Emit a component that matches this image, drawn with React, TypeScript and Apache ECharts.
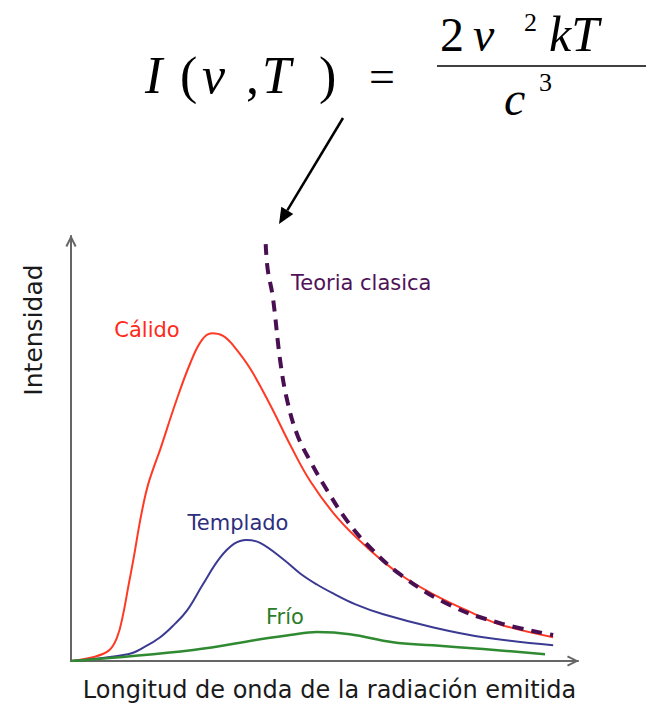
import React, { useEffect, useRef } from 'react';
import * as echarts from 'echarts';

// Curves: [wavelength (0-100), intensity (0-100)]
const calido: number[][] = [
  [0, 0], [4.3, 0.9], [7.5, 2.5], [9.1, 5.6], [10.2, 10.5], [11.3, 17.5], [12.4, 24.5],
  [13.4, 31.5], [14.4, 37.6], [15.2, 41.5], [16.3, 45.5], [17.6, 49.8], [20.7, 61.0], [23.5, 70.0],
  [25.8, 75.5], [27.8, 77.1], [30.0, 76.5], [32.1, 74.1], [35.4, 68.7], [39.4, 60.0],
  [43.3, 50.7], [47.2, 42.3], [52.6, 33.6], [58.5, 26.6], [65.0, 20.3], [71.5, 15.7],
  [78.1, 11.9], [84.6, 8.6], [95.1, 5.6],
];
const templado: number[][] = [
  [0, 0], [11.2, 1.6], [14.5, 3.3], [17.6, 5.6], [20.3, 8.5], [22.9, 11.9], [26.0, 18.0],
  [29.4, 24.3], [32.2, 27.6], [34.6, 28.5], [37.3, 27.8], [41.8, 24.0], [45.2, 20.6],
  [48.5, 18.0], [51.7, 15.9], [56.0, 13.4], [61.6, 11.0], [71.5, 7.9], [81.3, 5.6], [95.1, 3.7],
];
const frio: number[][] = [
  [0, 0], [24.1, 2.6], [37.3, 5.1], [43.2, 6.1], [48.5, 6.8], [55.0, 6.3],
  [63.5, 4.4], [71.4, 3.7], [81.3, 2.8], [93.5, 1.6],
];
const clasica: number[][] = [
  [38.4, 98.1], [38.8, 92.1], [39.8, 85.7], [41.3, 70.3], [42.7, 61.0], [44.7, 53.0],
  [47.2, 47.0], [50.6, 40.0], [54.5, 32.9], [58.5, 27.3], [65.0, 20.3], [74.8, 13.1],
  [84.6, 8.9], [95.1, 6.1],
];

const seriesNames = ['Cálido', 'Templado', 'Frío', 'Teoria clasica'];
const xAxisName = 'Longitud de onda de la radiación emitida';
const yAxisName = 'Intensidad';

const serif = '"Liberation Serif", "Times New Roman", serif';
const sans = '"DejaVu Sans", Verdana, sans-serif';

function t(text: string, x: number, y: number, size: number, italic = true, align = 'left') {
  return {
    type: 'text',
    x,
    y,
    style: {
      text,
      fontFamily: serif,
      fontSize: size,
      fontStyle: italic ? 'italic' : 'normal',
      fill: '#000',
      align,
      verticalAlign: 'middle',
    },
  };
}

function label(text: string, x: number, y: number, color: string, align = 'center') {
  return {
    type: 'text',
    x,
    y,
    style: { text, fontFamily: sans, fontSize: 21, fill: color, align, verticalAlign: 'middle' },
  };
}

const chevron = 'path://M0,12 L6,0 L12,12 L10,13 L6,4.5 L2,13 Z';

export default function App() {
  const ref = useRef<HTMLDivElement>(null);
  useEffect(() => {
    if (!ref.current) return;
    const chart = echarts.init(ref.current, null, { renderer: 'svg' });
    const axisLine = {
      show: true,
      symbol: ['none', chevron],
      symbolSize: [12, 12],
      symbolOffset: [0, -5],
      lineStyle: { color: '#666', width: 2 },
    };
    chart.setOption({
      animation: false,
      backgroundColor: '#fff',
      grid: { left: 71, right: 72, top: 236, bottom: 43 },
      xAxis: {
        type: 'value',
        min: 0,
        max: 100,
        axisLine,
        axisTick: { show: false },
        axisLabel: { show: false },
        splitLine: { show: false },
        name: xAxisName,
        nameLocation: 'middle',
        nameGap: 17,
        nameTextStyle: { fontFamily: sans, fontSize: 24, color: '#1a1a1a', padding: [0, 0, 0, 10] },
      },
      yAxis: {
        type: 'value',
        min: 0,
        max: 100,
        axisLine,
        axisTick: { show: false },
        axisLabel: { show: false },
        splitLine: { show: false },
      },
      series: [
        {
          name: seriesNames[0], type: 'line', data: calido, smooth: 0.4, symbol: 'none',
          lineStyle: { color: '#ff3a24', width: 2 },
        },
        {
          name: seriesNames[1], type: 'line', data: templado, smooth: 0.4, symbol: 'none',
          lineStyle: { color: '#3a3a92', width: 2 },
        },
        {
          name: seriesNames[2], type: 'line', data: frio, smooth: 0.4, symbol: 'none',
          lineStyle: { color: '#2f8a32', width: 2.5 },
        },
        {
          name: seriesNames[3], type: 'line', data: clasica, smooth: 0.4, symbol: 'none',
          lineStyle: { color: '#4a0f52', width: 4, type: [11, 8] },
        },
      ],
      graphic: [
        {
          type: 'text',
          x: 33,
          y: 330,
          rotation: Math.PI / 2,
          style: {
            text: yAxisName, fontFamily: sans, fontSize: 25, fill: '#1a1a1a',
            align: 'center', verticalAlign: 'middle',
          },
        },
        label(seriesNames[0], 147, 330, '#ff2a1a'),
        label(seriesNames[1], 238, 523, '#2e2e80'),
        label(seriesNames[2], 285, 617, '#2a7d2a'),
        label(seriesNames[3], 291, 283, '#4f1258', 'left'),
        // formula
        t('I', 145, 75, 52),
        t('(', 180, 75, 52, false),
        t('ν', 202, 75, 52),
        t(',', 246, 75, 52, false),
        t('T', 262, 75, 52),
        t(')', 319, 75, 52, false),
        t('=', 369, 76, 46, false),
        t('2', 440, 34, 48, false),
        t('ν', 473, 34, 48),
        t('2', 524, 22, 26, false),
        t('kT', 549, 34, 50),
        t('c', 504, 98, 48),
        t('3', 539, 82, 26, false),
        { type: 'line', shape: { x1: 437, y1: 66, x2: 646, y2: 66 }, style: { stroke: '#000', lineWidth: 1.5 } },
        // arrow towards the classic curve
        { type: 'line', shape: { x1: 343, y1: 118, x2: 287.3, y2: 210.3 }, style: { stroke: '#000', lineWidth: 2.5 } },
        {
          type: 'polygon',
          shape: { points: [[279, 224], [293.3, 213.9], [281.3, 206.7]] },
          style: { fill: '#000' },
        },
      ],
    });
    return () => chart.dispose();
  }, []);
  return <div ref={ref} style={{ position: 'fixed', left: 0, top: 0, width: 650, height: 707 }} />;
}
